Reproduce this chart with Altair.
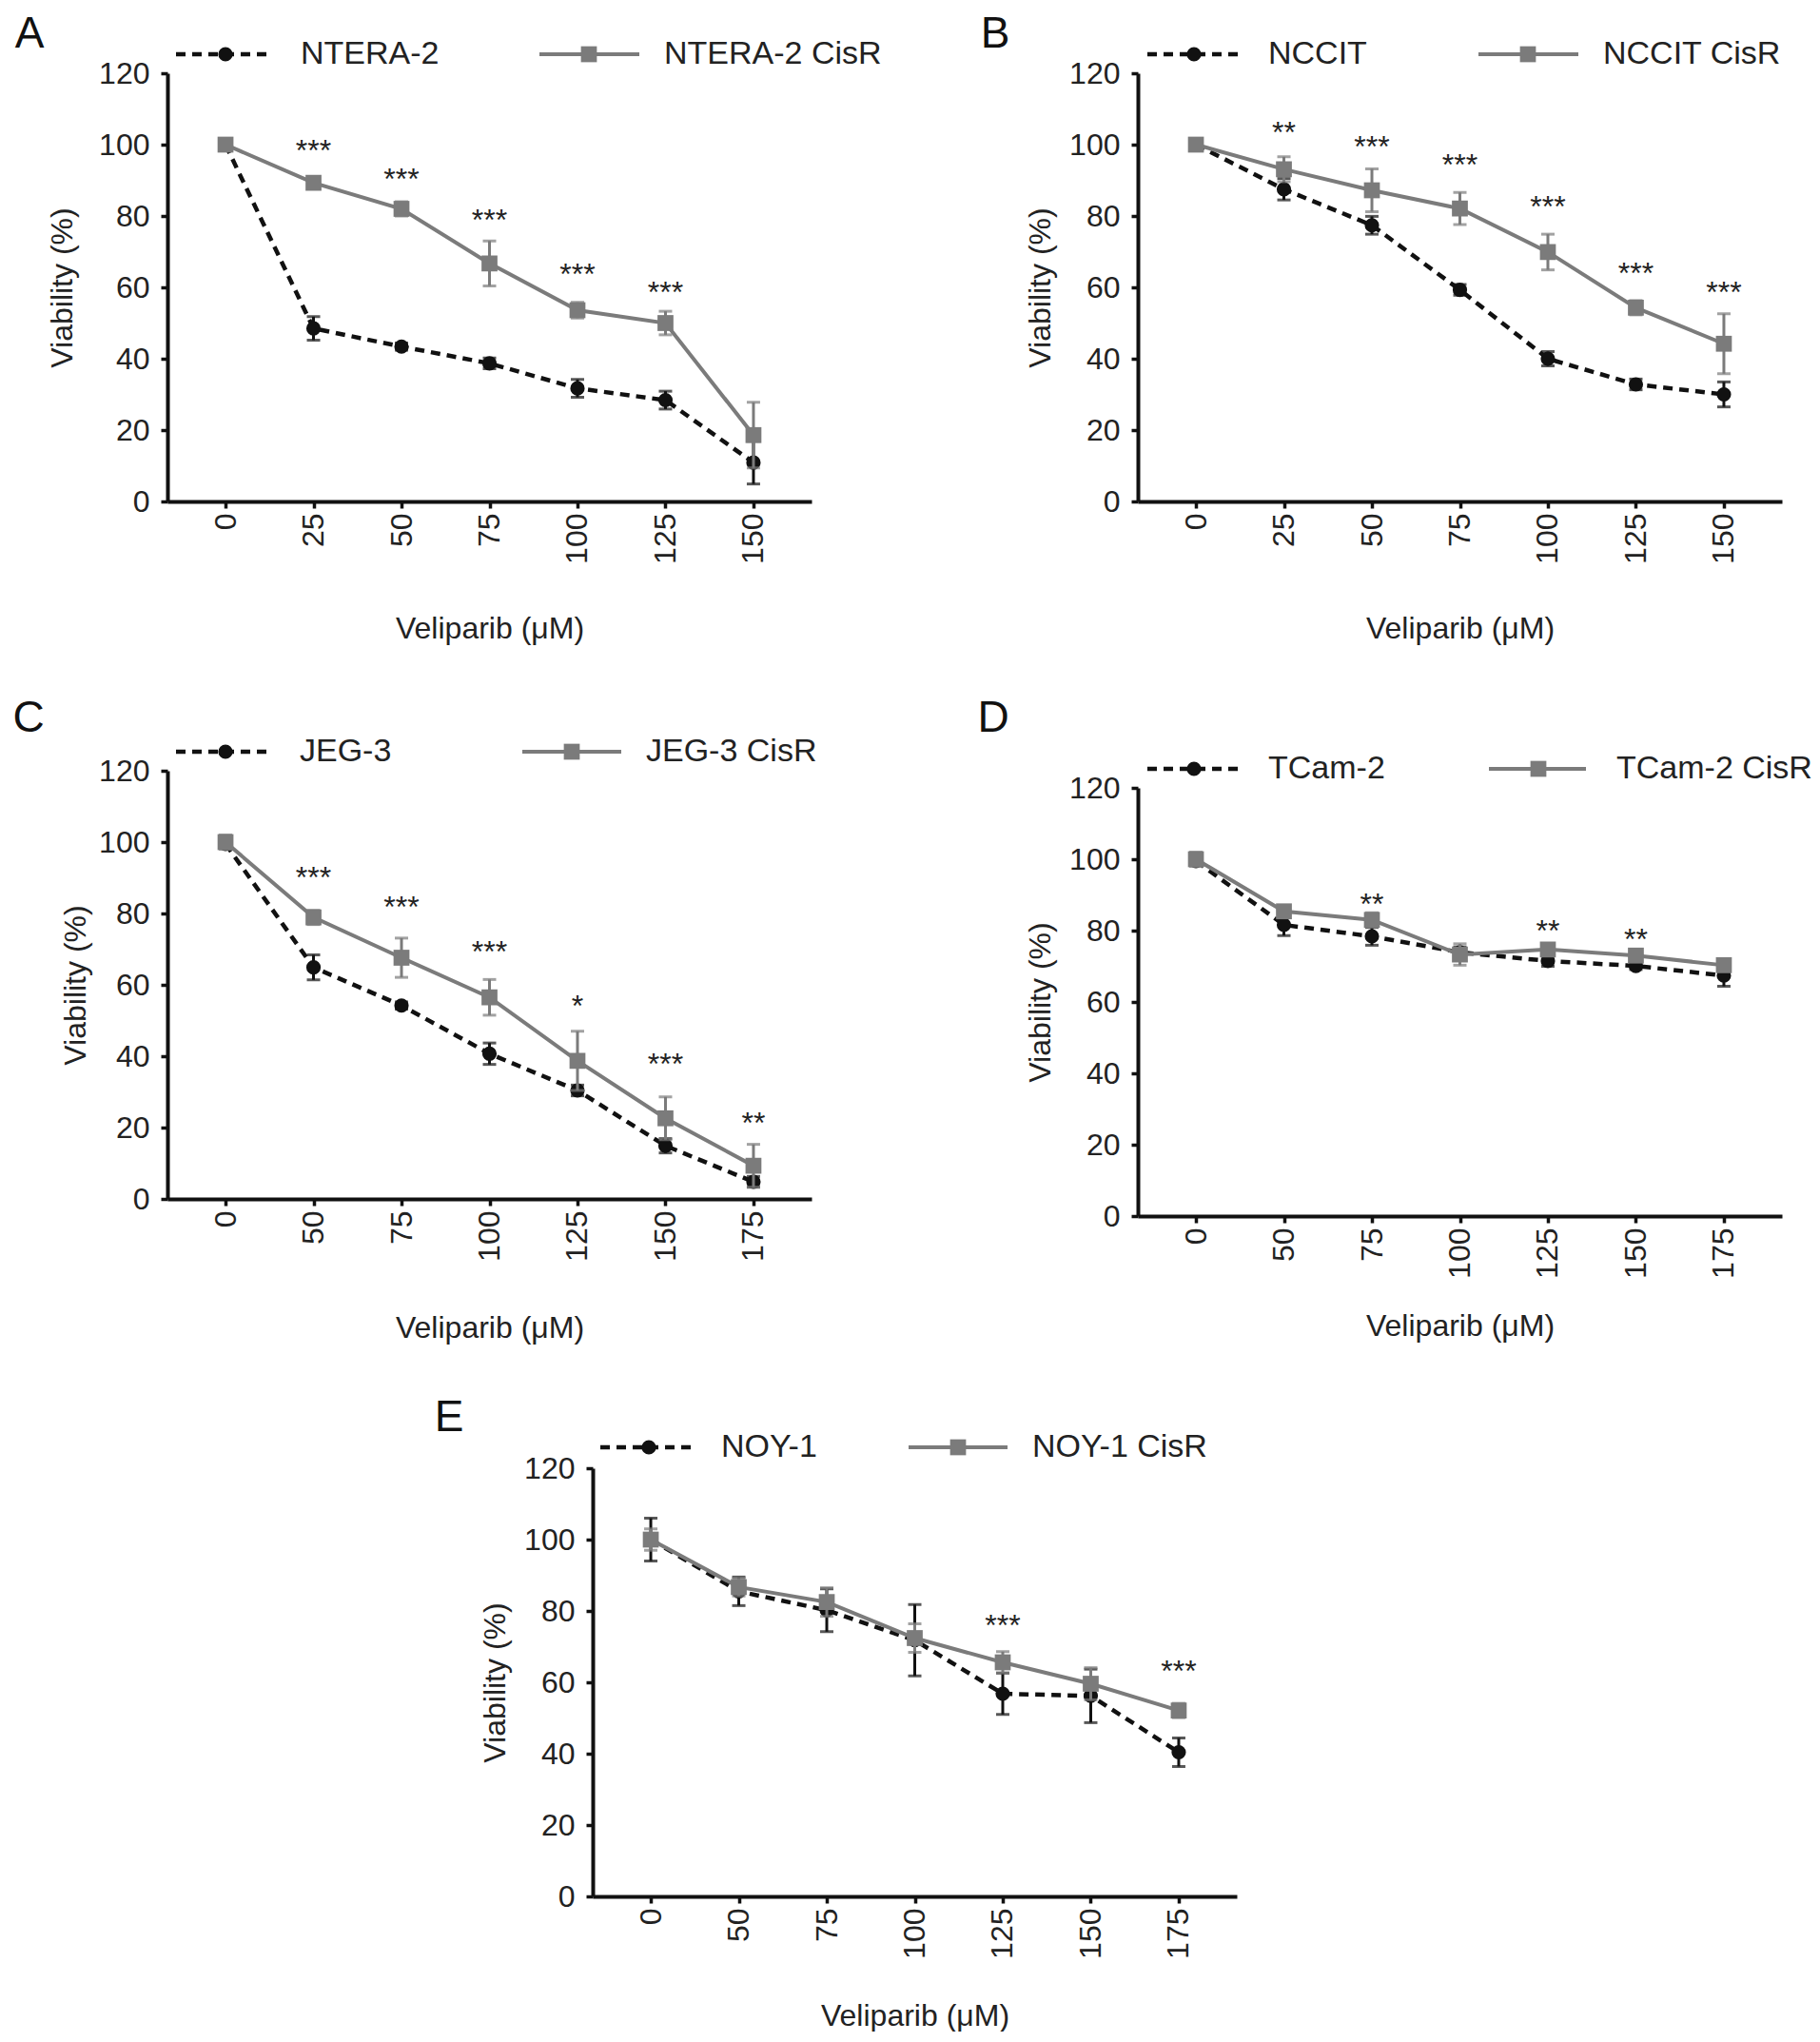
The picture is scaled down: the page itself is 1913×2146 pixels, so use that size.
import altair as alt
import pandas as pd

FONT = "Liberation Sans"
BLACK = "#111111"
GREY = "#7b7b7b"
TEXT = "#222222"

# ---- A: NTERA-2 ----
a_names = ["NTERA-2", "NTERA-2 CisR"]
a_doses = ["0", "25", "50", "75", "100", "125", "150"]
a_par = [100, 48.5, 43.4, 38.7, 31.7, 28.4, 10.9]
a_par_err = [1.0, 3.3, 1.0, 1.5, 2.5, 2.5, 6.0]
a_cis = [100, 89.3, 82.0, 66.7, 53.6, 50.0, 18.6]
a_cis_err = [1.5, 1.5, 2.0, 6.3, 2.2, 3.3, 9.2]
a_star_doses = ["25", "50", "75", "100", "125"]
a_stars = ["***", "***", "***", "***", "***"]
a_star_y = [100, 91.9, 80.6, 65.3, 60.2]

# ---- B: NCCIT ----
b_names = ["NCCIT", "NCCIT CisR"]
b_doses = ["0", "25", "50", "75", "100", "125", "150"]
b_par = [100, 87.5, 77.4, 59.3, 40.0, 32.8, 30.0]
b_par_err = [1.0, 3.0, 2.5, 1.5, 2.0, 1.5, 3.5]
b_cis = [100, 93.1, 87.2, 82.1, 69.9, 54.3, 44.2]
b_cis_err = [1.5, 3.5, 6.0, 4.5, 5.0, 2.0, 8.4]
b_star_doses = ["25", "50", "75", "100", "125", "150"]
b_stars = ["**", "***", "***", "***", "***", "***"]
b_star_y = [105.1, 101.1, 96.1, 84.2, 65.7, 60.3]

# ---- C: JEG-3 ----
c_names = ["JEG-3", "JEG-3 CisR"]
c_doses = ["0", "50", "75", "100", "125", "150", "175"]
c_par = [99.5, 64.9, 54.2, 40.7, 30.4, 14.9, 4.8]
c_par_err = [1.0, 3.5, 1.0, 3.0, 1.5, 2.0, 1.5]
c_cis = [100, 78.9, 67.6, 56.5, 38.7, 22.6, 9.3]
c_cis_err = [2.0, 2.0, 5.5, 5.0, 8.3, 6.0, 6.0]
c_star_doses = ["50", "75", "100", "125", "150", "175"]
c_stars = ["***", "***", "***", "*", "***", "**"]
c_star_y = [91.8, 83.4, 71.0, 55.8, 39.5, 23.0]

# ---- D: TCam-2 ----
d_names = ["TCam-2", "TCam-2 CisR"]
d_doses = ["0", "50", "75", "100", "125", "150", "175"]
d_par = [99.5, 81.6, 78.4, 73.9, 71.5, 70.1, 67.4]
d_par_err = [1.0, 3.0, 2.5, 1.5, 1.5, 1.0, 3.0]
d_cis = [100, 85.4, 83.0, 73.3, 74.7, 73.0, 70.3]
d_cis_err = [2.0, 1.5, 2.0, 3.0, 1.5, 1.0, 1.5]
d_star_doses = ["75", "125", "150"]
d_stars = ["**", "**", "**"]
d_star_y = [89.1, 81.6, 79.2]

# ---- E: NOY-1 ----
e_names = ["NOY-1", "NOY-1 CisR"]
e_doses = ["0", "50", "75", "100", "125", "150", "175"]
e_par = [100, 85.5, 80.2, 71.8, 56.8, 56.2, 40.4]
e_par_err = [6.0, 4.0, 6.0, 10.0, 5.8, 7.5, 4.0]
e_cis = [100, 86.7, 82.5, 72.4, 65.6, 59.6, 52.1]
e_cis_err = [3.0, 2.5, 4.0, 4.0, 3.0, 4.5, 2.0]
e_star_doses = ["125", "175"]
e_stars = ["***", "***"]
e_star_y = [77.7, 64.7]

W, H = 677, 450
one = pd.DataFrame({"k": [0]})


def panel(letter, names, doses, par, par_err, cis, cis_err,
          star_doses, stars, star_y, lay):
    df = pd.DataFrame({"dose": doses, "par": par, "par_err": par_err,
                       "cis": cis, "cis_err": cis_err})
    sdf = pd.DataFrame({"dose": star_doses, "txt": stars, "sy": star_y})

    x = alt.X("dose:O", sort=doses, title="Veliparib (μM)",
              scale=alt.Scale(type="point", padding=0.66),
              axis=alt.Axis(labelAngle=-90, labelFont=FONT, labelFontSize=32,
                            labelColor=TEXT, labelPadding=5, tickSize=7,
                            tickWidth=3.5, tickColor=BLACK, domainColor=BLACK,
                            domainWidth=4, titleFont=FONT, titleFontSize=32,
                            titleFontWeight="normal", titleColor=TEXT,
                            titlePadding=lay["xpad"], grid=False,
                            labelOverlap=False))
    yaxis = alt.Axis(values=[0, 20, 40, 60, 80, 100, 120], labelFont=FONT,
                     labelFontSize=32, labelColor=TEXT, labelPadding=12,
                     tickSize=7, tickWidth=3.5, tickColor=BLACK,
                     domainColor=BLACK, domainWidth=4, titleFont=FONT,
                     titleFontSize=32, titleFontWeight="normal",
                     titleColor=TEXT, titlePadding=lay["ypad"], grid=False)

    def y(field):
        return alt.Y(field, title="Viability (%)",
                     scale=alt.Scale(domain=[0, 120], nice=False), axis=yaxis)

    base = alt.Chart(df).transform_calculate(
        par_lo="datum.par - datum.par_err",
        par_hi="datum.par + datum.par_err",
        cis_lo="datum.cis - datum.cis_err",
        cis_hi="datum.cis + datum.cis_err",
    )

    layers = []
    for key, col, dash, lw in [("par", BLACK, [10, 7], 4.5), ("cis", GREY, None, 4)]:
        layers.append(base.mark_rule(color=col, strokeWidth=3).encode(
            x=x, y=y(key + "_lo:Q"), y2=key + "_hi:Q"))
        layers.append(base.mark_tick(color=col, thickness=3, size=14).encode(
            x=x, y=y(key + "_lo:Q")))
        layers.append(base.mark_tick(color=col, thickness=3, size=14).encode(
            x=x, y=y(key + "_hi:Q")))
        if dash:
            line = base.mark_line(color=col, strokeWidth=lw, strokeDash=dash)
        else:
            line = base.mark_line(color=col, strokeWidth=lw)
        layers.append(line.encode(x=x, y=y(key + ":Q")))
        if key == "par":
            layers.append(base.mark_circle(size=230, color=col, opacity=1).encode(
                x=x, y=y(key + ":Q")))
        else:
            layers.append(base.mark_square(size=280, color=col, opacity=1).encode(
                x=x, y=y(key + ":Q")))

    layers.append(alt.Chart(sdf).mark_text(
        font=FONT, fontSize=32, color=TEXT, baseline="middle", dy=7).encode(
        x=x, y=y("sy:Q"), text="txt:N"))

    # legend drawn above the plot
    ly = lay["ly"]
    layers += [
        alt.Chart(one).mark_rule(color=BLACK, strokeWidth=4.5, strokeDash=[10, 7]).encode(
            x=alt.value(lay["d0"]), x2=alt.value(lay["d1"]), y=alt.value(ly)),
        alt.Chart(one).mark_circle(size=230, color=BLACK, opacity=1).encode(
            x=alt.value(lay["dc"]), y=alt.value(ly)),
        alt.Chart(one).mark_text(text=names[0], align="left", baseline="middle",
                                 font=FONT, fontSize=34, color=TEXT).encode(
            x=alt.value(lay["t0"]), y=alt.value(ly)),
        alt.Chart(one).mark_rule(color=GREY, strokeWidth=4).encode(
            x=alt.value(lay["g0"]), x2=alt.value(lay["g1"]), y=alt.value(ly)),
        alt.Chart(one).mark_square(size=280, color=GREY, opacity=1).encode(
            x=alt.value(lay["gc"]), y=alt.value(ly)),
        alt.Chart(one).mark_text(text=names[1], align="left", baseline="middle",
                                 font=FONT, fontSize=34, color=TEXT).encode(
            x=alt.value(lay["t1"]), y=alt.value(ly)),
        alt.Chart(one).mark_text(text=letter, align="center", baseline="middle",
                                 font=FONT, fontSize=46, color=BLACK).encode(
            x=alt.value(lay["lx"]), y=alt.value(lay["lyy"])),
    ]
    return alt.layer(*layers).properties(width=W, height=H)


A = panel("A", a_names, a_doses, a_par, a_par_err, a_cis, a_cis_err,
          a_star_doses, a_stars, a_star_y,
          dict(d0=9, d1=107, dc=61, t0=140, g0=391, g1=496, gc=443, t1=522,
               ly=-20, lx=-145, lyy=-41, xpad=53, ypad=21))
B = panel("B", b_names, b_doses, b_par, b_par_err, b_cis, b_cis_err,
          b_star_doses, b_stars, b_star_y,
          dict(d0=10, d1=108, dc=59, t0=137, g0=358, g1=463, gc=410, t1=489,
               ly=-20, lx=-150, lyy=-41, xpad=53, ypad=13))
C = panel("C", c_names, c_doses, c_par, c_par_err, c_cis, c_cis_err,
          c_star_doses, c_stars, c_star_y,
          dict(d0=9, d1=107, dc=61, t0=139, g0=373, g1=477, gc=425, t1=503,
               ly=-20, lx=-146, lyy=-55, xpad=55, ypad=7))
D = panel("D", d_names, d_doses, d_par, d_par_err, d_cis, d_cis_err,
          d_star_doses, d_stars, d_star_y,
          dict(d0=10, d1=108, dc=59, t0=137, g0=369, g1=471, gc=421, t1=503,
               ly=-20, lx=-152, lyy=-73, xpad=35, ypad=13))
E = panel("E", e_names, e_doses, e_par, e_par_err, e_cis, e_cis_err,
          e_star_doses, e_stars, e_star_y,
          dict(d0=8, d1=104, dc=59, t0=135, g0=332, g1=436, gc=384, t1=462,
               ly=-22, lx=-151, lyy=-53, xpad=45, ypad=13))


def spacer():
    return alt.Chart(one).mark_rule(color="white", opacity=0).encode(
        x=alt.value(0), y=alt.value(0), y2=alt.value(1)).properties(width=1, height=1)


row1 = alt.hconcat(A, B, spacing=343, bounds="flush")
row2 = alt.hconcat(C, alt.vconcat(spacer(), D, spacing=17, bounds="flush"),
                   spacing=343, bounds="flush")
row3 = alt.hconcat(spacer(), E, spacing=446, bounds="flush")

chart = alt.vconcat(row1, row2, row3, spacing=55, bounds="full").properties(
    padding={"left": 5, "top": 5, "right": 0, "bottom": 0}
).configure_view(stroke=None)

chart.save("out.html", embed_options={"renderer": "svg", "actions": False})
